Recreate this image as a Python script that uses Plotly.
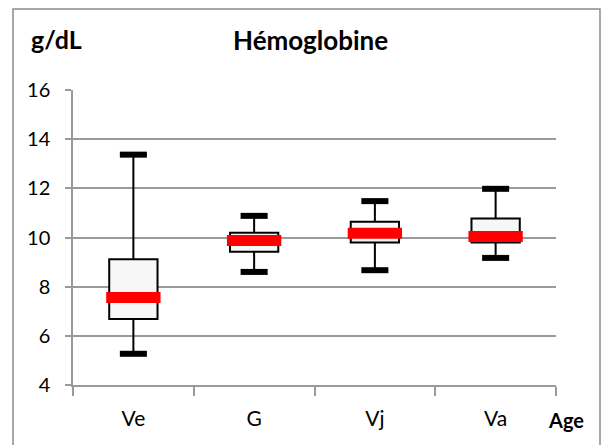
import plotly.graph_objects as go

# Hemoglobin by age group (g/dL)
categories = ["Ve", "G", "Vj", "Va"]
lower_whisker = [5.27, 8.6, 8.67, 9.17]
q1_values = [6.68, 9.42, 9.8, 9.8]
median_values = [7.56, 9.88, 10.17, 10.04]
q3_values = [9.12, 10.19, 10.64, 10.77]
upper_whisker = [13.37, 10.88, 11.48, 11.98]
y_ticks = [4, 6, 8, 10, 12, 14, 16]

FONT = "Lato"
GRID = "#9a9a9a"
positions = list(range(len(categories)))

fig = go.Figure()

# boxes (quartiles + whiskers)
fig.add_trace(go.Box(
    x=categories,
    q1=q1_values,
    median=median_values,
    q3=q3_values,
    lowerfence=lower_whisker,
    upperfence=upper_whisker,
    width=0.4,
    whiskerwidth=0,
    fillcolor="#f7f7f7",
    line=dict(color="black", width=2),
    boxpoints=False,
    showlegend=False,
    hoverinfo="skip",
))

# heavy whisker caps
cap_x, cap_y = [], []
for i, lo, hi in zip(positions, lower_whisker, upper_whisker):
    for v in (lo, hi):
        cap_x += [i - 0.112, i + 0.112, None]
        cap_y += [v, v, None]
fig.add_trace(go.Scatter(
    x=cap_x, y=cap_y, xaxis="x2", mode="lines",
    line=dict(color="black", width=6),
    showlegend=False, hoverinfo="skip",
))

# red median bars
med_x, med_y = [], []
for i, m in zip(positions, median_values):
    med_x += [i - 0.225, i + 0.225, None]
    med_y += [m, m, None]
fig.add_trace(go.Scatter(
    x=med_x, y=med_y, xaxis="x2", mode="lines",
    line=dict(color="#ff0000", width=11),
    showlegend=False, hoverinfo="skip",
))

fig.update_layout(
    width=604,
    height=445,
    margin=dict(l=73, r=48, t=90, b=60),
    paper_bgcolor="white",
    plot_bgcolor="white",
    font=dict(family=FONT, size=20, color="black"),
    xaxis=dict(
        type="category",
        categoryorder="array",
        categoryarray=categories,
        range=[-0.5, 3.5],
        showgrid=False,
        showline=True,
        linecolor=GRID,
        linewidth=1.5,
        ticks="outside",
        tickson="boundaries",
        ticklen=9,
        tickcolor=GRID,
        tickwidth=1.5,
        ticklabelstandoff=14,
        tickfont=dict(family=FONT, size=21, color="black"),
        zeroline=False,
    ),
    xaxis2=dict(
        overlaying="x",
        anchor="y",
        range=[-0.5, 3.5],
        visible=False,
    ),
    yaxis=dict(
        range=[4, 16],
        tickvals=y_ticks,
        showgrid=True,
        gridcolor=GRID,
        gridwidth=1.5,
        showline=True,
        linecolor=GRID,
        linewidth=1.5,
        ticks="outside",
        ticklen=6,
        tickcolor=GRID,
        tickwidth=1.5,
        ticklabelstandoff=11,
        tickfont=dict(family=FONT, size=20, color="black"),
        zeroline=False,
    ),
    shapes=[
        dict(type="rect", xref="paper", yref="paper",
             x0=-60 / 483, x1=527 / 483, y0=-70 / 295, y1=376 / 295,
             line=dict(color="#8c8c8c", width=1.5), fillcolor="rgba(0,0,0,0)",
             layer="below"),
    ],
    annotations=[
        dict(text="<b>Hémoglobine</b>", xref="paper", yref="paper",
             x=237 / 483, y=345 / 295, xanchor="center", yanchor="middle",
             showarrow=False, font=dict(family=FONT, size=26, color="black")),
        dict(text="<b>g/dL</b>", xref="paper", yref="paper",
             x=-17 / 483, y=346 / 295, xanchor="center", yanchor="middle",
             showarrow=False, font=dict(family=FONT, size=25, color="black")),
        dict(text="<b>Age</b>", xref="paper", yref="paper",
             x=493 / 483, y=-35 / 295, xanchor="center", yanchor="middle",
             showarrow=False, font=dict(family=FONT, size=20, color="black")),
    ],
)

fig.write_html("out.html")
